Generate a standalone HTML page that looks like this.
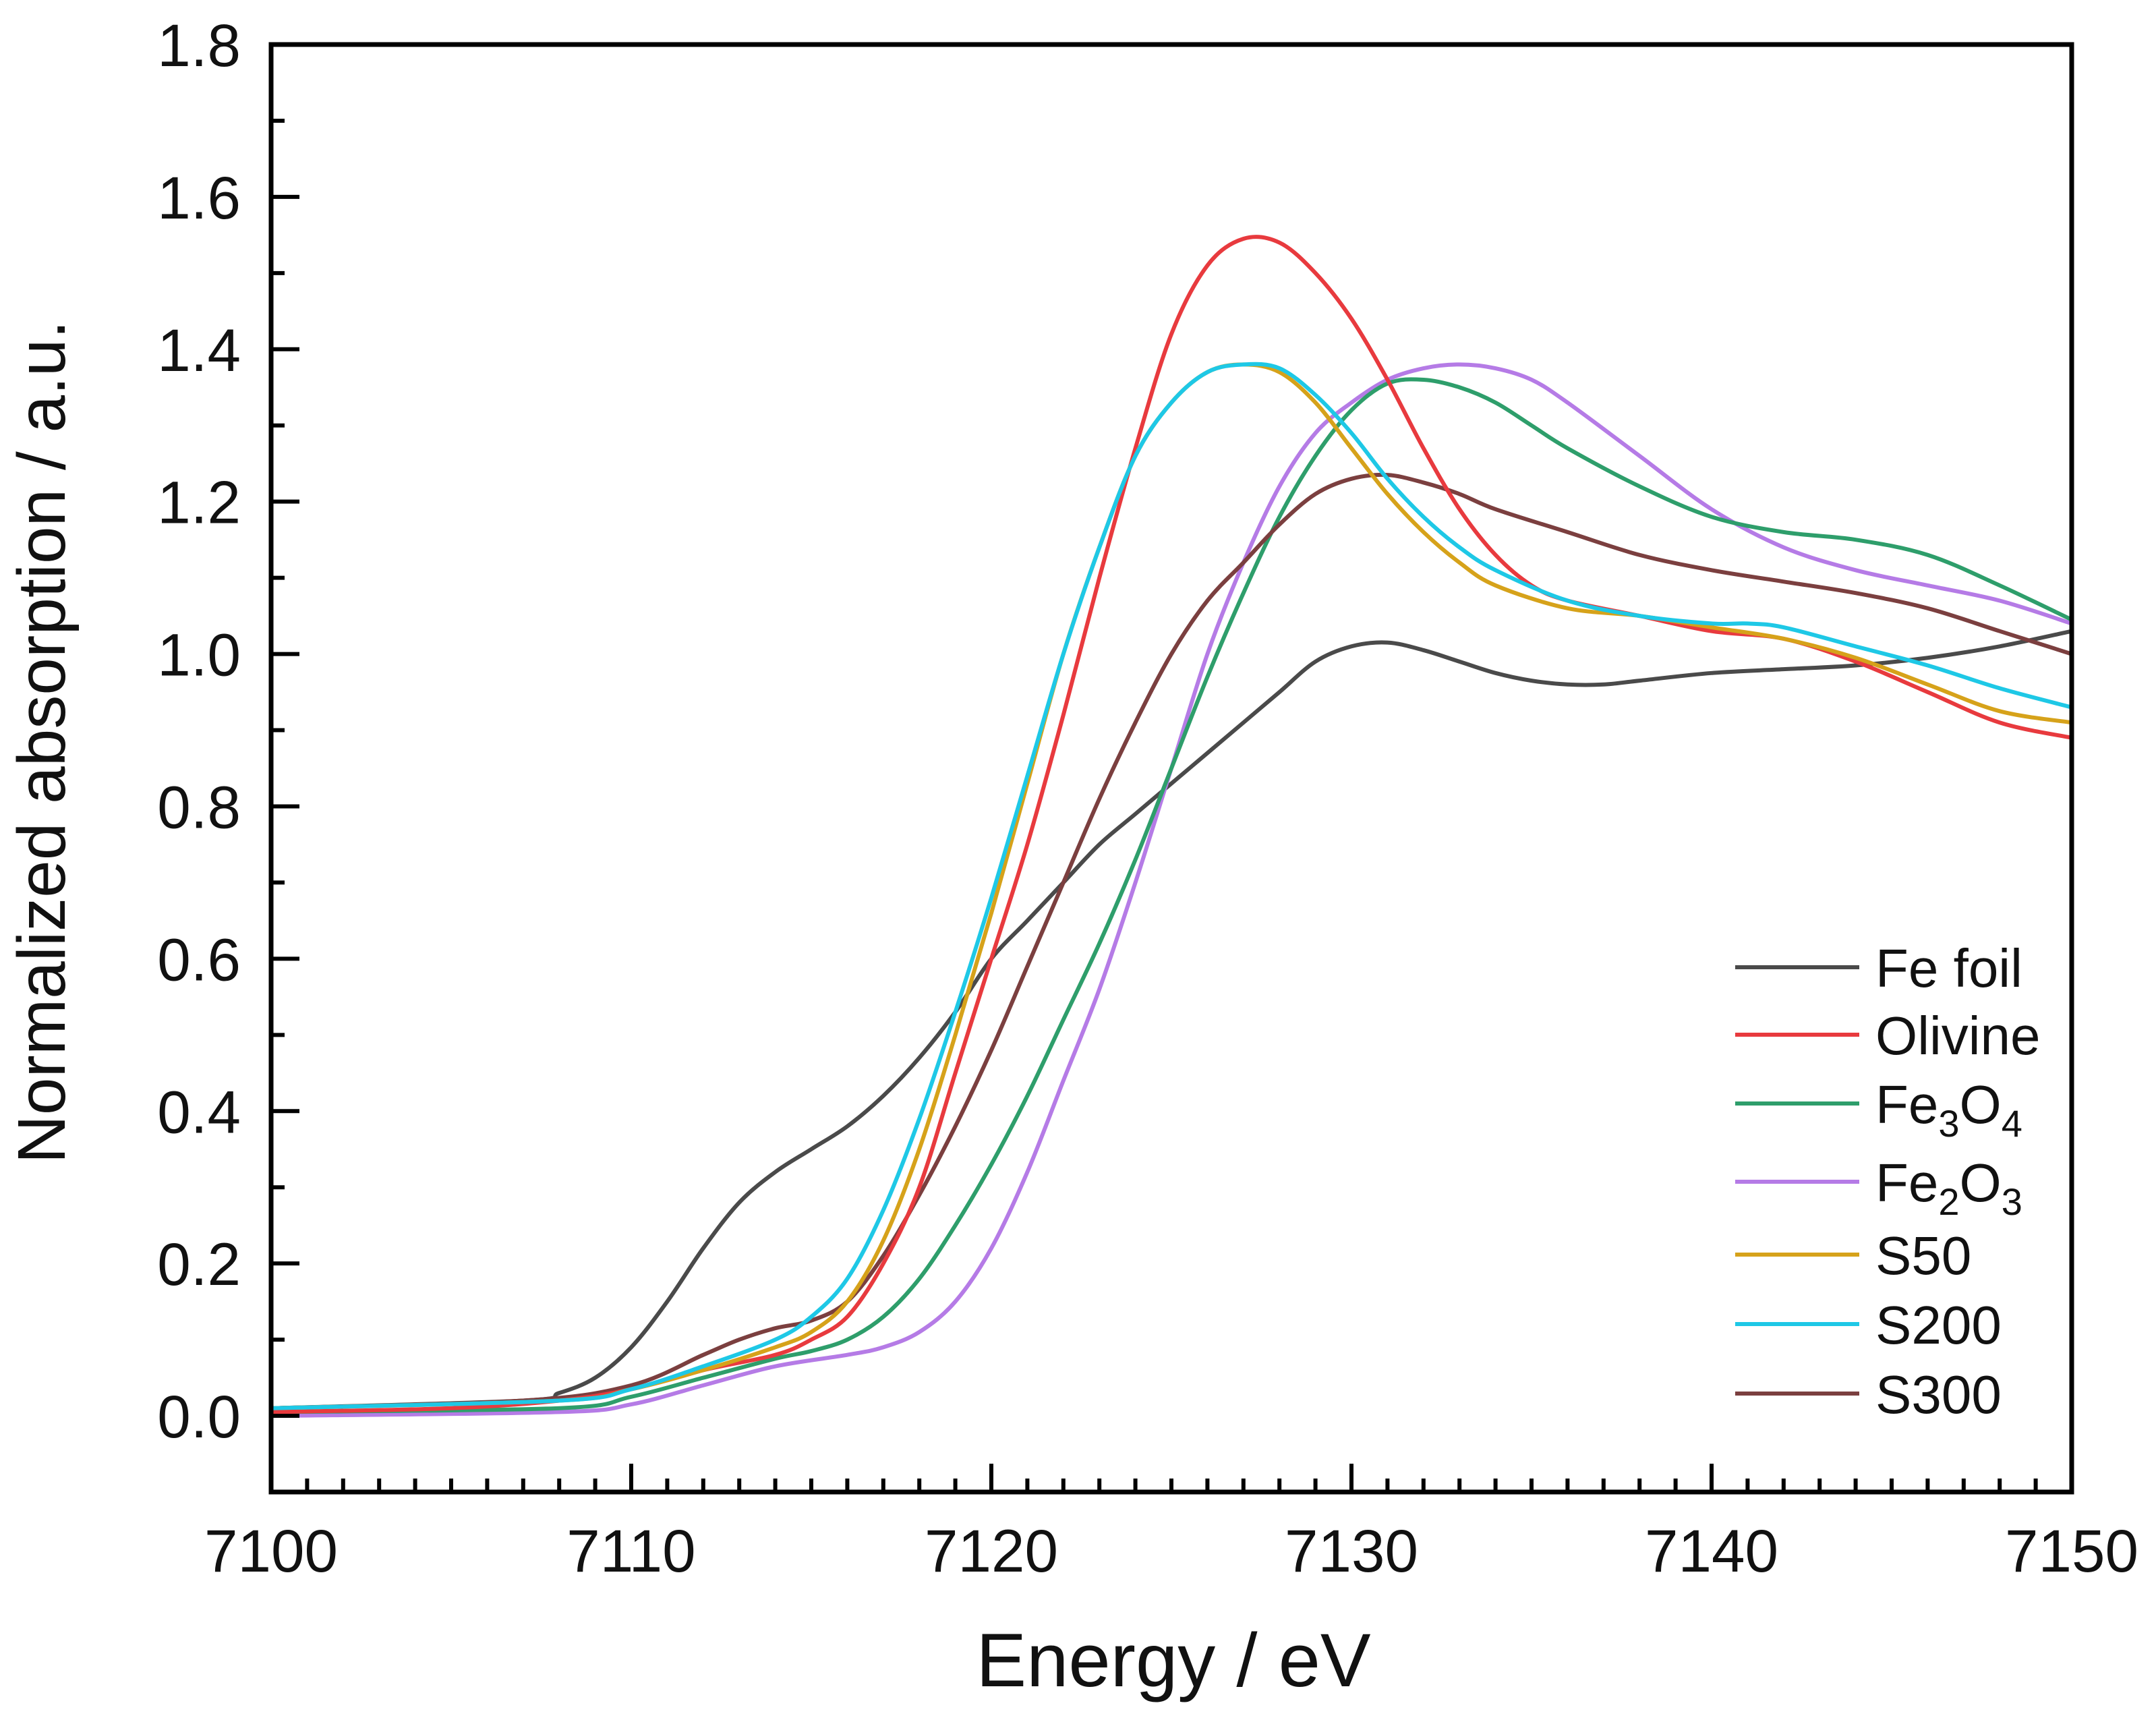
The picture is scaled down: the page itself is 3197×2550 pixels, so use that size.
<!DOCTYPE html>
<html><head><meta charset="utf-8">
<style>
html,body{margin:0;padding:0;background:#fff;}
svg{display:block;font-family:"Liberation Sans",Arial,sans-serif;}
</style></head>
<body>
<svg id="chart" width="3197" height="2550" viewBox="0 0 3197 2550" xmlns="http://www.w3.org/2000/svg">
<rect width="3197" height="2550" fill="#fff"/>
<g id="series"></g>
<g id="axes"></g>
<g id="legend"></g>
<text x="1740" y="2500" font-size="112" text-anchor="middle" fill="#111">Energy / eV</text>
<text transform="translate(96,1100) rotate(-90)" font-size="100" text-anchor="middle" fill="#111">Normalized absorption / a.u.</text>
</svg>
<script>
const xTicks = [7100,7110,7120,7130,7140,7150];
const yTicks = [0.0,0.2,0.4,0.6,0.8,1.0,1.2,1.4,1.6,1.8];
const seriesNames = ["Fe foil","Olivine","Fe3O4","Fe2O3","S50","S200","S300"];
const seriesColors = ["#4a4a4a","#e83a3e","#2e9e6b","#b57be6","#d6a21a","#1ec8e6","#7b3f3f"];
const feFoilE = [7100,7107,7108,7109,7110,7111,7112,7113,7114,7115,7116,7117,7118,7119,7120,7121,7122,7123,7124,7125,7126,7127,7128,7129,7130,7131,7132,7133,7134,7135,7136,7137,7138,7140,7142,7144,7146,7148,7150];
const feFoilV = [0.01,0.02,0.03,0.05,0.09,0.15,0.22,0.28,0.32,0.35,0.38,0.42,0.47,0.53,0.6,0.65,0.7,0.75,0.79,0.83,0.87,0.91,0.95,0.99,1.01,1.015,1.005,0.99,0.975,0.965,0.96,0.96,0.965,0.975,0.98,0.985,0.995,1.01,1.03];
const olivineE = [7100,7105,7108,7110,7112,7114,7115,7116,7117,7118,7119,7120,7121,7122,7123,7124,7125,7126,7127,7128,7129,7130,7131,7132,7133,7134,7135,7136,7138,7140,7142,7144,7146,7148,7150];
const olivineV = [0.005,0.01,0.02,0.035,0.06,0.08,0.1,0.13,0.2,0.3,0.45,0.6,0.75,0.92,1.1,1.27,1.42,1.51,1.545,1.54,1.5,1.44,1.36,1.27,1.19,1.13,1.09,1.07,1.05,1.03,1.02,0.99,0.95,0.91,0.89];
const fe3o4E = [7100,7108,7110,7112,7114,7115,7116,7117,7118,7119,7120,7121,7122,7123,7124,7125,7126,7127,7128,7129,7130,7131,7132,7133,7134,7135,7136,7138,7140,7142,7144,7146,7148,7150];
const fe3o4V = [0.005,0.01,0.025,0.05,0.075,0.085,0.1,0.13,0.18,0.25,0.33,0.42,0.52,0.62,0.73,0.85,0.97,1.08,1.18,1.26,1.32,1.355,1.36,1.35,1.33,1.3,1.27,1.22,1.18,1.16,1.15,1.13,1.09,1.045];
const fe2o3E = [7100,7108,7110,7112,7114,7116,7117,7118,7119,7120,7121,7122,7123,7124,7125,7126,7127,7128,7129,7130,7131,7132,7133,7134,7135,7136,7138,7140,7142,7144,7146,7148,7150];
const fe2o3V = [0.0,0.005,0.015,0.04,0.065,0.08,0.09,0.11,0.15,0.22,0.32,0.44,0.56,0.7,0.85,1.0,1.12,1.22,1.29,1.33,1.36,1.375,1.38,1.375,1.36,1.33,1.26,1.19,1.14,1.11,1.09,1.07,1.04];
const s50E = [7100,7108,7110,7112,7114,7115,7116,7117,7118,7119,7120,7121,7122,7123,7124,7125,7126,7127,7128,7129,7130,7131,7132,7133,7134,7136,7138,7140,7142,7144,7146,7148,7150];
const s50V = [0.01,0.02,0.035,0.06,0.09,0.11,0.15,0.23,0.35,0.5,0.66,0.83,1.0,1.14,1.26,1.33,1.37,1.38,1.37,1.33,1.27,1.21,1.16,1.12,1.09,1.06,1.05,1.035,1.02,0.995,0.96,0.925,0.91];
const s200E = [7100,7108,7110,7112,7114,7115,7116,7117,7118,7119,7120,7121,7122,7123,7124,7125,7126,7127,7128,7129,7130,7131,7132,7133,7134,7136,7138,7140,7141,7142,7144,7146,7148,7150];
const s200V = [0.01,0.02,0.035,0.065,0.1,0.13,0.18,0.27,0.39,0.53,0.68,0.84,1.0,1.14,1.26,1.33,1.37,1.38,1.375,1.34,1.29,1.23,1.18,1.14,1.11,1.07,1.05,1.04,1.04,1.035,1.01,0.985,0.955,0.93];
const s300E = [7100,7107,7110,7112,7113,7114,7115,7116,7117,7118,7119,7120,7121,7122,7123,7124,7125,7126,7127,7128,7129,7130,7131,7132,7133,7134,7136,7138,7140,7142,7144,7146,7148,7150];
const s300V = [0.01,0.02,0.04,0.08,0.1,0.115,0.125,0.15,0.21,0.29,0.38,0.48,0.59,0.7,0.81,0.91,1.0,1.07,1.12,1.17,1.21,1.23,1.235,1.225,1.21,1.19,1.16,1.13,1.11,1.095,1.08,1.06,1.03,1.0];

const NS="http://www.w3.org/2000/svg";
const L=402,R=3072,T=66,B=2212,XMIN=7100,XMAX=7150,YMIN=-0.1,YMAX=1.8;
const xs=v=>L+(v-XMIN)/(XMAX-XMIN)*(R-L);
const ys=v=>B-(v-YMIN)/(YMAX-YMIN)*(B-T);
function mk(tag,attrs,parent){const e=document.createElementNS(NS,tag);for(const k in attrs)e.setAttribute(k,attrs[k]);parent.appendChild(e);return e;}
function smooth(pts){let d=`M${pts[0][0]},${pts[0][1]}`;for(let i=0;i<pts.length-1;i++){const p0=pts[i-1]||pts[i],p1=pts[i],p2=pts[i+1],p3=pts[i+2]||p2;const c1x=p1[0]+(p2[0]-p0[0])/6,c1y=p1[1]+(p2[1]-p0[1])/6,c2x=p2[0]-(p3[0]-p1[0])/6,c2y=p2[1]-(p3[1]-p1[1])/6;d+=` C${c1x},${c1y} ${c2x},${c2y} ${p2[0]},${p2[1]}`;}return d;}

const allE=[feFoilE,olivineE,fe3o4E,fe2o3E,s50E,s200E,s300E];
const allV=[feFoilV,olivineV,fe3o4V,fe2o3V,s50V,s200V,s300V];
const sg=document.getElementById('series');
const drawOrder=[0,3,2,6,1,4,5];
drawOrder.forEach(i=>{
  const pts=allE[i].map((e,j)=>[xs(e),ys(allV[i][j])]);
  const p=mk('path',{d:smooth(pts),fill:'none',stroke:seriesColors[i],'stroke-width':6,'stroke-linejoin':'round'},sg);
  
  
});

const ax=document.getElementById('axes');
const frame=mk('rect',{x:L,y:T,width:R-L,height:B-T,fill:'none',stroke:'#000','stroke-width':7},ax);


for(let e=XMIN;e<=XMAX;e++){
  const major=(e%10===0);
  const t=mk('line',{x1:xs(e),x2:xs(e),y1:B,y2:B-(major?42:20),stroke:'#000','stroke-width':6},ax);
  
  
}
xTicks.forEach(v=>{
  const t=mk('text',{x:xs(v),y:B+118,'font-size':89,'text-anchor':'middle',fill:'#111'},ax);
  t.textContent=v;
  
  
});
for(let k=0;k<=18;k++){
  const v=k/10;const major=(k%2===0);
  const t=mk('line',{x1:L,x2:L+(major?42:20),y1:ys(v),y2:ys(v),stroke:'#000','stroke-width':6},ax);
  
  
}
yTicks.forEach(v=>{
  const t=mk('text',{x:L-45,y:ys(v)+32,'font-size':89,'text-anchor':'end',fill:'#111'},ax);
  t.textContent=v.toFixed(1);
  
  
});

const lg=document.getElementById('legend');
const rowsY=[1434,1534,1636,1752,1860,1963,2066];
const labelsHTML=[["Fe foil"],["Olivine"],["Fe","3","O","4"],["Fe","2","O","3"],["S50"],["S200"],["S300"]];
seriesNames.forEach((n,i)=>{
  const ln=mk('line',{x1:2573,x2:2757,y1:rowsY[i],y2:rowsY[i],stroke:seriesColors[i],'stroke-width':6},lg);
  
  
  const t=mk('text',{x:2781,y:rowsY[i]+29,'font-size':80,fill:'#111'},lg);
  
  
  const parts=labelsHTML[i];
  parts.forEach((s,j)=>{
    const ts=mk('tspan',{},t);
    if(j%2===1){ts.setAttribute('font-size','56');ts.setAttribute('dy','20');}
    else if(j>0){ts.setAttribute('dy','-20');}
    ts.textContent=s;
  });
});
</script>
</body></html>
